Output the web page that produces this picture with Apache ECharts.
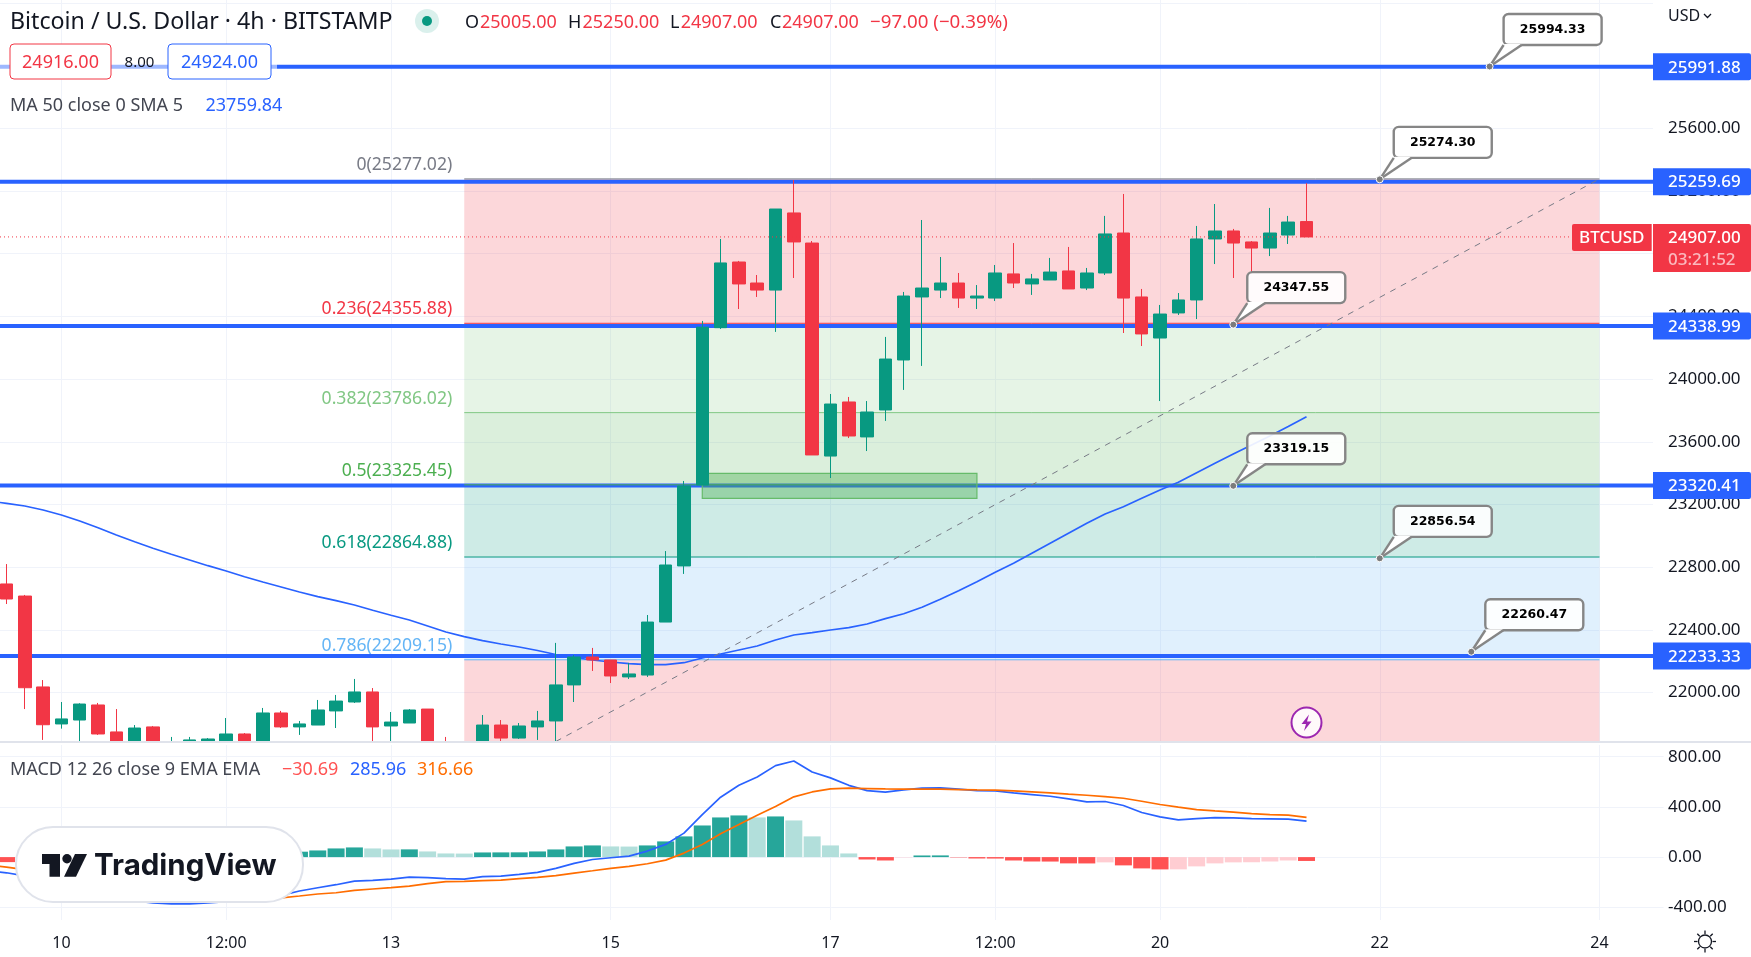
<!DOCTYPE html>
<html><head><meta charset="utf-8">
<style>html,body{margin:0;padding:0;background:#fff}#c{width:1751px;height:957px}</style>
<script src="https://cdn.jsdelivr.net/npm/echarts@6/dist/echarts.min.js"></script>
</head><body><div id="c"></div>
<script>
const timeLabels = ['','','','','10','','','','','','','','','12:00','','','','','','','','','13','','','','','','','','','','','','15','','','','','','','','','','','','17','','','','','','','','','12:00','','','','','','','','','20','','','','','','','','','','','','22','','','','','','','','','','','','24','','',''];
const candleOpen = [22750,22693,22616,22036,21800,21825,21921,21749,21647,21781,21583,21621,21691,21691,21736,21634,21870,21781,21793,21883,21940,22004,21787,21806,21895,21634,21560,21634,21793,21710,21781,21819,22049,22227,22208,22100,22112,22450,22808,23324,24328,24747,24613,24568,25060,24868,23509,23854,23631,23803,24122,24524,24568,24613,24517,24517,24671,24607,24632,24690,24581,24677,24932,24524,24262,24422,24505,24894,24945,24875,24836,24919,25005];
const candleClose = [22693,22597,22031,21795,21832,21927,21736,21634,21774,21602,21666,21698,21704,21736,21634,21870,21781,21800,21889,21946,22004,21781,21812,21889,21621,21570,21600,21793,21710,21787,21819,22049,22227,22208,22106,22119,22450,22814,23318,24331,24741,24607,24568,25085,24875,23516,23841,23637,23790,24128,24530,24581,24613,24517,24530,24677,24613,24639,24683,24575,24677,24926,24517,24288,24415,24505,24894,24945,24868,24836,24932,25002,24907];
const candleLow = [22680,22565,21895,21698,21770,21666,21730,21570,21602,21570,21538,21583,21685,21685,21621,21602,21774,21730,21793,21774,21934,21666,21666,21806,21583,21538,21530,21602,21691,21704,21698,21666,21940,22138,22061,22087,22100,22450,22757,23324,24320,24447,24524,24301,24645,23516,23369,23624,23541,23733,23931,24084,24517,24454,24447,24498,24581,24537,24632,24575,24568,24664,24294,24211,23860,24409,24383,24734,24645,24677,24785,24862,24907];
const candleHigh = [22800,22820,22623,22080,21940,21932,21934,21895,21793,21787,21717,21717,21710,21838,21742,21902,21883,21819,21953,21985,22087,22029,21876,21895,21895,21717,21630,21857,21825,21806,21883,22317,22240,22285,22208,22189,22495,22903,23350,24371,24894,24754,24664,25085,25270,24881,23905,23886,23860,24269,24556,25015,24779,24677,24600,24728,24868,24671,24773,24843,24709,25041,25181,24575,24473,24549,24977,25117,24958,24881,25092,25041,25250];
const ma50 = [23222,23207.7,23190.5,23164.9,23133,23094.7,23052,23005.4,22962.7,22920.5,22882.3,22845.9,22809.6,22775.7,22739.4,22705.6,22673.7,22641.8,22611.8,22586.3,22558.8,22525,22493.1,22463.1,22424.9,22386.6,22356.6,22331.1,22310,22290.9,22268.6,22243.1,22223.9,22208,22195.2,22184.3,22177.9,22177.9,22190.7,22220.7,22246.2,22271.8,22297.3,22335.6,22367.4,22382.1,22399.4,22414,22437.6,22471.5,22503.3,22544.1,22595.2,22650.1,22707.5,22767.5,22824.9,22888.7,22952.5,23016.3,23080.1,23139.4,23186,23239.5,23292.5,23341.6,23402.7,23462.8,23522.2,23579.6,23637,23697.6,23759.84];
const macdLine = [-108,-125,-150,-190,-240,-280,-310,-335,-350,-365,-372,-372,-365,-355,-345,-330,-305,-270,-244,-220,-191,-186,-175,-159,-164,-172,-175,-156,-151,-138,-122,-90,-50,-19,-5,8,48,101,191,339,477,572,639,729,766,678,631,572,530,517,535,549,551,541,530,527,511,498,485,464,440,443,411,355,321,297,307,315,313,307,305,302,285.96];
const signalLine = [-65,-80,-100,-130,-165,-200,-235,-265,-290,-310,-325,-335,-340,-345,-340,-335,-325,-310,-294,-284,-265,-254,-244,-231,-212,-196,-193,-188,-183,-172,-162,-148,-127,-109,-90,-74,-53,-24,32,101,186,260,334,403,480,519,543,549,546,543,541,541,541,538,535,533,527,519,511,501,493,482,469,445,419,398,379,368,358,347,339,334,316.66];
const macdHist = [-30,-40,-60,-70,-60,-40,-25,-10,5,10,15,18,25,30,38,40,41,43,53,69,77,69,61,61.5,45,29,28,37,37.5,38,45,61,85,93,85,84,93,125,165,252,316,332,316,324,292,165,93,29,-19,-27,-3,13,13.5,-3,-11,-11.5,-27,-35,-35.5,-50,-50.5,-42,-66,-90,-98,-97.5,-74,-50,-42,-41,-35,-27,-30.69];
const fibRatios = ['0','0.236','0.382','0.5','0.618','0.786','1'];
const fibPrices = [25277.02,24355.88,23786.02,23325.45,22864.88,22209.15,21373.87];
const levelPrices = [25991.88,25259.69,24338.99,23320.41,22233.33];
const calloutIndex = [82,76,68,68,76,81];
const calloutPrices = [25994.33,25274.30,24347.55,23319.15,22856.54,22260.47];
const fibStart = 26, fibEnd = 88;
const orderBlock = [39,54,23399,23239];
const trendLine = [[31,21688],[88,25277]];
const lastPrice = 24907.00;
const priceGridTicks = [22000,22400,22800,23200,23600,24000,24400,24800,25200,25600,26000,26400];
const priceLabelTicks = [22000,22400,22800,23200,23600,24000,24400,24800,25200,25600];
const macdTicks = [-400,0,400,800];

const RED='#f23645',GREEN='#089981',BLUE='#2962ff',INK='#131722',GRID='#f0f3fa';
const FONT='"Noto Sans"';
const fibFill=['rgba(242,54,69,.2)','rgba(129,199,132,.2)','rgba(76,175,80,.2)','rgba(8,153,129,.2)','rgba(100,181,246,.2)','rgba(242,54,69,.2)'];
const fibLine=['#787b86',RED,'#81c784','#4caf50',GREEN,'#64b5f6'];
const PANE_RIGHT=1653, BAND=18.31, BANDS=92, LEFT=6.5-BAND*1.5;
const sz=17, sz2=18;

const chart=echarts.init(document.getElementById('c'),null,{renderer:'canvas'});
const candles=candleOpen.map((o,i)=>[o,candleClose[i],candleLow[i],candleHigh[i]]);

function T(x,y,text,fill,opt){return Object.assign({type:'text',z:100,silent:true,style:Object.assign({x,y,text,fill,fontFamily:FONT,fontSize:sz2,verticalAlign:'middle',align:'left'},opt||{})});}
const graphics=[
 {type:'rect',z:1,silent:true,shape:{x:PANE_RIGHT,y:0,width:98,height:920},style:{fill:'#fff'}},
 {type:'rect',z:8,silent:true,shape:{x:0,y:742,width:PANE_RIGHT,height:30},style:{fill:'#fff'}},
 {type:'rect',z:30,silent:true,shape:{x:0,y:44,width:277,height:36},style:{fill:'rgba(255,255,255,.55)'}},
 {type:'line',z:30,silent:true,shape:{x1:0,y1:742,x2:1751,y2:742},style:{stroke:'#e0e3eb',lineWidth:2}},
 T(10,22,'Bitcoin / U.S. Dollar · 4h · BITSTAMP',INK,{fontSize:23.2}),
 {type:'circle',z:100,silent:true,shape:{cx:427,cy:21,r:12},style:{fill:'rgba(8,153,129,.15)'}},
 {type:'circle',z:101,silent:true,shape:{cx:427,cy:21,r:5},style:{fill:GREEN}},
 T(465,23,'O',INK),T(480,23,'25005.00',RED),T(568,23,'H',INK),T(582.5,23,'25250.00',RED),
 T(670,23,'L',INK),T(680.7,23,'24907.00',RED),T(770,23,'C',INK),T(782,23,'24907.00',RED),T(870,23,'−97.00 (−0.39%)',RED,{fontSize:18.7}),
 {type:'rect',z:100,silent:true,shape:{x:10,y:44,width:101,height:35,r:4},style:{fill:'#fff',stroke:RED,lineWidth:1}},
 T(60.5,63,'24916.00',RED,{align:'center'}),
 T(139.5,63,'8.00',INK,{align:'center',fontSize:15}),
 {type:'rect',z:100,silent:true,shape:{x:168,y:44,width:103,height:35,r:4},style:{fill:'#fff',stroke:BLUE,lineWidth:1}},
 T(219.5,63,'24924.00',BLUE,{align:'center'}),
 T(10,106,'MA 50 close 0 SMA 5','#434651'),T(205.5,106,'23759.84',BLUE),
 T(10,770,'MACD 12 26 close 9 EMA EMA','#434651'),T(282,770,'−30.69','#ff5252'),T(350,770,'285.96',BLUE),T(417,770,'316.66','#ff6d00'),
 T(1668,16,'USD',INK,{fontSize:16}),
 {type:'polyline',z:100,silent:true,shape:{points:[[1704,14],[1707.5,17.5],[1711,14]]},style:{stroke:INK,lineWidth:1.3,fill:'none'}},
 {type:'rect',z:100,silent:true,shape:{x:16,y:827,width:287,height:75,r:37},style:{fill:'#fff',stroke:'#e0e3eb',lineWidth:2}},
 {type:'polygon',z:101,silent:true,shape:{points:[[42,854],[60,854],[60,876.7],[49.5,876.7],[49.5,864],[42,864]]},style:{fill:INK}},
 {type:'circle',z:101,silent:true,shape:{cx:67,cy:858.7,r:4.7},style:{fill:INK}},
 {type:'polygon',z:101,silent:true,shape:{points:[[75,854],[87,854],[76,876.7],[64,876.7]]},style:{fill:INK}},
 T(94,866,'TradingView',INK,{fontFamily:'Inter',fontWeight:700,fontSize:29.5}),
 {type:'circle',z:100,silent:true,shape:{cx:1306.5,cy:722.5,r:15},style:{fill:'rgba(255,255,255,.85)',stroke:'#9c27b0',lineWidth:2}},
 {type:'polygon',z:101,silent:true,shape:{points:[[1309,714.5],[1301.5,724],[1306,724],[1304,731],[1311.5,721.5],[1307,721.5]]},style:{fill:'#9c27b0'}},
 {type:'circle',z:100,silent:true,shape:{cx:1705,cy:941.5,r:6.5},style:{fill:'none',stroke:INK,lineWidth:1.3}},
];
[[0,-1],[0,1],[-1,0],[1,0],[.7,.7],[-.7,.7],[.7,-.7],[-.7,-.7]].forEach(d=>graphics.push({type:'line',z:100,silent:true,shape:{x1:1705+d[0]*7.5,y1:941.5+d[1]*7.5,x2:1705+d[0]*11,y2:941.5+d[1]*11},style:{stroke:INK,lineWidth:1.3}}));

const xShared={type:'category',data:timeLabels,boundaryGap:true,axisTick:{show:false},axisLine:{show:false},
  splitLine:{show:true,alignWithLabel:true,interval:(i)=>timeLabels[i]!=='',lineStyle:{color:GRID,width:1}}};
const yShared={type:'value',position:'right',scale:true,axisLine:{show:false},axisTick:{show:false}};

const option={
 animation:false,backgroundColor:'#fff',
 graphic:{elements:graphics},
 grid:[{left:LEFT,top:0,width:BAND*BANDS,height:742,outerBoundsMode:'none'},{left:LEFT,top:745,width:BAND*BANDS,height:175,outerBoundsMode:'none'}],
 xAxis:[
  Object.assign({},xShared,{gridIndex:0,axisLabel:{show:false}}),
  Object.assign({},xShared,{gridIndex:1,z:9,axisLabel:{show:true,interval:(i)=>timeLabels[i]!=='',margin:15,color:INK,fontFamily:FONT,fontSize:16}})
 ],
 yAxis:[
  Object.assign({},yShared,{gridIndex:0,min:21684.8,max:26418.5,z:0,axisLabel:{show:false,customValues:priceGridTicks},axisTick:{show:false,customValues:priceGridTicks},splitLine:{show:true,lineStyle:{color:GRID}}}),
  Object.assign({},yShared,{gridIndex:0,min:21684.8,max:26418.5,z:10,splitLine:{show:false},axisTick:{show:false,customValues:priceLabelTicks},axisLabel:{show:true,customValues:priceLabelTicks,margin:4.4,padding:[2,0,0,0],color:INK,fontFamily:FONT,fontSize:sz,formatter:v=>v.toFixed(2)}}),
  Object.assign({},yShared,{gridIndex:1,min:-501.2,max:893.2,z:9,axisLabel:{show:false,customValues:macdTicks},axisTick:{show:false,customValues:macdTicks},splitLine:{show:true,lineStyle:{color:GRID}}}),
  Object.assign({},yShared,{gridIndex:1,min:-501.2,max:893.2,z:10,splitLine:{show:false},axisTick:{show:false,customValues:macdTicks},axisLabel:{show:true,customValues:macdTicks,margin:4.4,padding:[2,0,0,0],color:INK,fontFamily:FONT,fontSize:sz,formatter:v=>v.toFixed(2)}})
 ],
 series:[
  {name:'FibBands',type:'custom',xAxisIndex:0,yAxisIndex:0,z:2,clip:true,silent:true,
   data:fibPrices.slice(0,-1).map((p,i)=>[fibStart,p,fibPrices[i+1]]),
   renderItem:(params,api)=>{const i=params.dataIndex,a=api.coord([fibStart,fibPrices[i]]),b=api.coord([fibEnd,fibPrices[i+1]]);
     return {type:'rect',shape:{x:a[0],y:a[1],width:b[0]-a[0],height:b[1]-a[1]},style:{fill:fibFill[i]}};}},
  {name:'Levels',type:'custom',xAxisIndex:0,yAxisIndex:0,z:3,clip:false,silent:true,
   data:levelPrices.map((p,i)=>[i,p]),
   renderItem:(params,api)=>{const p=levelPrices[params.dataIndex],y=api.coord([0,p])[1];
     return {type:'line',shape:{x1:0,y1:y,x2:PANE_RIGHT,y2:y},style:{stroke:BLUE,lineWidth:4}};}},
  {name:'FibLevels',type:'custom',xAxisIndex:0,yAxisIndex:0,z:4,clip:false,silent:true,
   data:fibPrices.slice(0,-1).map((p,i)=>[fibStart,p]),
   renderItem:(params,api)=>{const i=params.dataIndex,a=api.coord([fibStart,fibPrices[i]]),b=api.coord([fibEnd,fibPrices[i]]);
     return {type:'group',children:[
      {type:'line',shape:{x1:a[0],y1:a[1],x2:b[0],y2:a[1]},style:{stroke:fibLine[i],lineWidth:1}},
      {type:'text',style:{x:a[0]-12,y:a[1]-14,text:fibRatios[i]+'('+fibPrices[i].toFixed(2)+')',fill:fibLine[i],fontFamily:FONT,fontSize:17.6,align:'right',verticalAlign:'middle'}}
     ]};}},
  {name:'OrderBlock',type:'custom',xAxisIndex:0,yAxisIndex:0,z:5,clip:true,silent:true,
   data:[orderBlock],
   renderItem:(params,api)=>{const a=api.coord([orderBlock[0],orderBlock[2]]),b=api.coord([orderBlock[1],orderBlock[3]]);
     return {type:'rect',shape:{x:a[0],y:a[1],width:b[0]-a[0],height:b[1]-a[1]},style:{fill:'rgba(76,175,80,.4)',stroke:'#66bb6a',lineWidth:1.2}};}},
  {name:'MA 50',type:'line',xAxisIndex:0,yAxisIndex:0,z:6,data:ma50,showSymbol:false,silent:true,lineStyle:{color:BLUE,width:1.7}},
  {name:'BTCUSD',type:'candlestick',xAxisIndex:0,yAxisIndex:0,z:7,barWidth:13,data:candles,silent:true,
   itemStyle:{color:GREEN,color0:RED,borderColor:GREEN,borderColor0:RED,borderWidth:1}},
  {name:'Trend',type:'custom',xAxisIndex:0,yAxisIndex:0,z:8,clip:true,silent:true,
   data:[trendLine[0].concat(trendLine[1])],
   renderItem:(params,api)=>{const a=api.coord(trendLine[0]),b=api.coord(trendLine[1]);
     return {type:'line',shape:{x1:a[0],y1:a[1],x2:b[0],y2:b[1]},style:{stroke:'#787b86',lineWidth:1,lineDash:[6,6]}};}},
  {name:'Last',type:'custom',xAxisIndex:0,yAxisIndex:0,z:9,clip:false,silent:true,
   data:[[72,lastPrice]],
   renderItem:(params,api)=>{const y=api.coord([0,lastPrice])[1];
     return {type:'line',shape:{x1:0,y1:y,x2:1572,y2:y},style:{stroke:RED,lineWidth:1,lineDash:[1,3]}};}},
  {name:'Callouts',type:'custom',xAxisIndex:0,yAxisIndex:0,z:15,clip:false,silent:true,
   data:calloutPrices.map((p,i)=>[calloutIndex[i],p]),
   renderItem:(params,api)=>{const i=params.dataIndex,c=api.coord([calloutIndex[i],calloutPrices[i]]),ax=c[0],ay=c[1],bx=ax+14,by=ay-52.5,bw=98,bh=31;
     const ty=by+bh, s='#868686';
     return {type:'group',children:[
      {type:'rect',shape:{x:bx,y:by,width:bw,height:bh,r:5},style:{fill:'rgba(255,255,255,.9)',stroke:s,lineWidth:2.4}},
      {type:'polygon',shape:{points:[[ax,ay],[bx+1,ty-1],[bx+18,ty-1]]},style:{fill:'#fff'}},
      {type:'polyline',shape:{points:[[bx,ty],[ax,ay]]},style:{stroke:s,lineWidth:2.4,fill:'none'}},
      {type:'polyline',shape:{points:[[bx+18,ty],[ax,ay]]},style:{stroke:s,lineWidth:2.4,fill:'none'}},
      {type:'circle',shape:{cx:ax,cy:ay,r:3.5},style:{fill:'#7c7c7c',stroke:'#fff',lineWidth:1}},
      {type:'text',style:{x:bx+bw/2,y:by+bh/2,text:calloutPrices[i].toFixed(2),fill:'#000',fontFamily:'"DejaVu Sans"',fontWeight:700,fontSize:12.5,align:'center',verticalAlign:'middle'}}
     ]};}},
  {name:'Tags',type:'custom',xAxisIndex:0,yAxisIndex:0,z:20,clip:false,silent:true,
   data:levelPrices.map((p,i)=>[i,p]),
   renderItem:(params,api)=>{const p=levelPrices[params.dataIndex],y=api.coord([0,p])[1];
     return {type:'group',children:[
      {type:'rect',shape:{x:PANE_RIGHT,y:y-13.5,width:98,height:27,r:[0,2,2,0]},style:{fill:BLUE}},
      {type:'text',style:{x:1668,y:y+1,text:p.toFixed(2),fill:'#fff',fontFamily:FONT,fontWeight:500,fontSize:sz,align:'left',verticalAlign:'middle'}}
     ]};}},
  {name:'LastTag',type:'custom',xAxisIndex:0,yAxisIndex:0,z:21,clip:false,silent:true,
   data:[[72,lastPrice]],
   renderItem:(params,api)=>{const y=api.coord([0,lastPrice])[1];
     return {type:'group',children:[
      {type:'rect',shape:{x:1572,y:y-13,width:79.7,height:27,r:[2,0,0,2]},style:{fill:RED}},
      {type:'text',style:{x:1611.8,y:y+1,text:'BTCUSD',fill:'#fff',fontFamily:FONT,fontWeight:500,fontSize:sz,align:'center',verticalAlign:'middle'}},
      {type:'rect',shape:{x:PANE_RIGHT,y:y-13,width:98,height:48,r:[0,2,2,0]},style:{fill:RED}},
      {type:'text',style:{x:1668,y:y+1,text:lastPrice.toFixed(2),fill:'#fff',fontFamily:FONT,fontWeight:500,fontSize:sz,align:'left',verticalAlign:'middle'}},
      {type:'text',style:{x:1668,y:y+23,text:'03:21:52',fill:'rgba(255,255,255,.65)',fontFamily:FONT,fontWeight:500,fontSize:sz,align:'left',verticalAlign:'middle'}}
     ]};}},
  {name:'Histogram',type:'bar',xAxisIndex:1,yAxisIndex:2,z:11,barWidth:17,data:macdHist,silent:true,
   itemStyle:{color:(p)=>{const v=macdHist[p.dataIndex],pv=p.dataIndex?macdHist[p.dataIndex-1]:0;
     return v>=0?(v>pv?'#26a69a':'#b2dfdb'):(v<pv?'#ff5252':'#ffcdd2');}}},
  {name:'MACD',type:'line',xAxisIndex:1,yAxisIndex:2,z:12,data:macdLine,showSymbol:false,silent:true,lineStyle:{color:BLUE,width:1.7}},
  {name:'Signal',type:'line',xAxisIndex:1,yAxisIndex:2,z:13,data:signalLine,showSymbol:false,silent:true,lineStyle:{color:'#ff6d00',width:1.7}}
 ]
};
chart.setOption(option);
</script></body></html>
